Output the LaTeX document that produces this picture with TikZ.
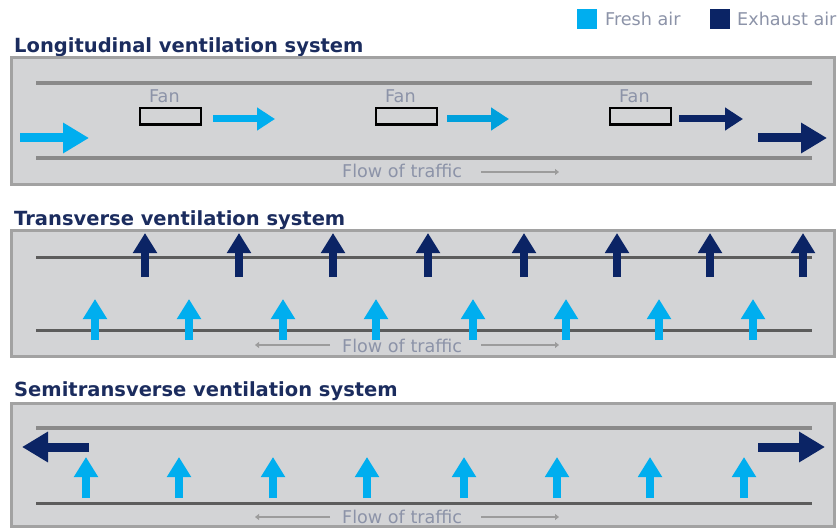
\documentclass[tikz,border=0pt]{standalone}
\usepackage{fontspec}
\setmainfont{DejaVu Sans}
\usetikzlibrary{arrows.meta}
\definecolor{fresh}{HTML}{00AEEF}
\definecolor{exhaust}{HTML}{0B2465}
\definecolor{titlecol}{HTML}{1B2C5E}
\definecolor{panelfill}{HTML}{D3D4D6}
\definecolor{panelborder}{HTML}{A2A2A2}
\definecolor{labelcol}{HTML}{8C93A8}
\definecolor{flowcol}{HTML}{9C9C9C}
\definecolor{ductlight}{HTML}{8A8A8A}
\definecolor{ductdark}{HTML}{5C5C5C}
\begin{document}
\begin{tikzpicture}[x=1pt,y=-1pt,
  panel/.style={fill=panelfill,draw=panelborder,line width=3pt},
  titletext/.style={anchor=base west,inner sep=0pt,text=titlecol,font=\fontsize{19.5}{20}\selectfont\bfseries},
  graytext/.style={anchor=base west,inner sep=0pt,text=labelcol,font=\fontsize{17.6}{18}\selectfont},
  fanbox/.style={draw=black,fill=panelfill,line width=2.5pt},
  ductlightline/.style={draw=ductlight,line width=4pt},
  ductdarkline/.style={draw=ductdark,line width=3pt},
  bigarrow/.style={line width=9pt,-{Triangle[length=26pt,width=29pt]}},
  smallarrow/.style={line width=7pt,-{Triangle[length=18pt,width=22pt]}},
  uparrow/.style={line width=7.5pt,-{Triangle[length=20pt,width=23pt]}},
  trafficline/.style={draw=flowcol,line width=1.5pt,-{Triangle[length=4pt,width=6pt]}},
  legendsq/.style={minimum width=20pt,minimum height=20pt,inner sep=0pt,anchor=north west}
]
\useasboundingbox (0,0) rectangle (837,529);

% legend
\node[legendsq,fill=fresh] (sqf) at (577,9) {};
\node[graytext] (lf) at (605,26) {Fresh air};
\node[legendsq,fill=exhaust] (sqe) at (710,9) {};
\node[graytext] (le) at (737,26) {Exhaust air};

% ---------- Longitudinal ----------
\node[titletext] (t1) at (14,52.5) {Longitudinal ventilation system};
\draw[panel] (11.5,57.5) rectangle (834.5,184.5);
\draw[ductlightline] (36,83) -- (812,83);
\draw[ductlightline] (36,158) -- (812,158);
\foreach \x/\n in {140/fa,376/fb,610/fc}{
  \draw[fanbox] (\x,108.25) rectangle (\x+61,124.75);
  \node[graytext] (\n) at (\x+9,103) {Fan};
}
\draw[smallarrow,fresh] (213,119) -- (275,119);
\draw[smallarrow,fresh!92!black] (447,119) -- (509,119);
\draw[smallarrow,exhaust] (679,119) -- (743,119);
\draw[bigarrow,fresh] (20,138) -- (89,138);
\draw[bigarrow,exhaust] (758,138) -- (827,138);
\node[graytext] (f1) at (342,177.5) {Flow of traffic};
\coordinate (f1a) at (481,172);
\coordinate (f1b) at (559,172);
\draw[trafficline] (f1a) -- (f1b);

% ---------- Transverse ----------
\node[titletext] (t2) at (14,225.5) {Transverse ventilation system};
\draw[panel] (11.5,230.5) rectangle (834.5,356.5);
\draw[ductdarkline] (36,257) -- (812,257);
\draw[ductdarkline] (36,330) -- (812,330);
\foreach \x in {145,239,333,428,524,617,710,803}{
  \draw[uparrow,exhaust] (\x,277) -- (\x,233);
}
\foreach \x in {95,189,283,376,473,566,659,753}{
  \draw[uparrow,fresh] (\x,340) -- (\x,299);
}
\node[graytext] (f2) at (342,352) {Flow of traffic};
\coordinate (f2a) at (330,345);
\coordinate (f2b) at (255,345);
\coordinate (f2c) at (481,345);
\coordinate (f2d) at (559,345);
\draw[trafficline] (f2a) -- (f2b);
\draw[trafficline] (f2c) -- (f2d);

% ---------- Semitransverse ----------
\node[titletext] (t3) at (14,396.5) {Semitransverse ventilation system};
\draw[panel] (11.5,403.5) rectangle (834.5,526);
\draw[ductlightline] (36,428) -- (812,428);
\draw[ductdarkline] (36,503) -- (812,503);
\draw[bigarrow,exhaust] (89,447) -- (22,447);
\draw[bigarrow,exhaust] (758,447) -- (825,447);
\foreach \x in {86,179,273,367,464,557,650,744}{
  \draw[uparrow,fresh] (\x,498) -- (\x,457);
}
\node[graytext] (f3) at (342,523) {Flow of traffic};
\coordinate (f3a) at (330,517);
\coordinate (f3b) at (255,517);
\coordinate (f3c) at (481,517);
\coordinate (f3d) at (559,517);
\draw[trafficline] (f3a) -- (f3b);
\draw[trafficline] (f3c) -- (f3d);
\end{tikzpicture}
\end{document}
